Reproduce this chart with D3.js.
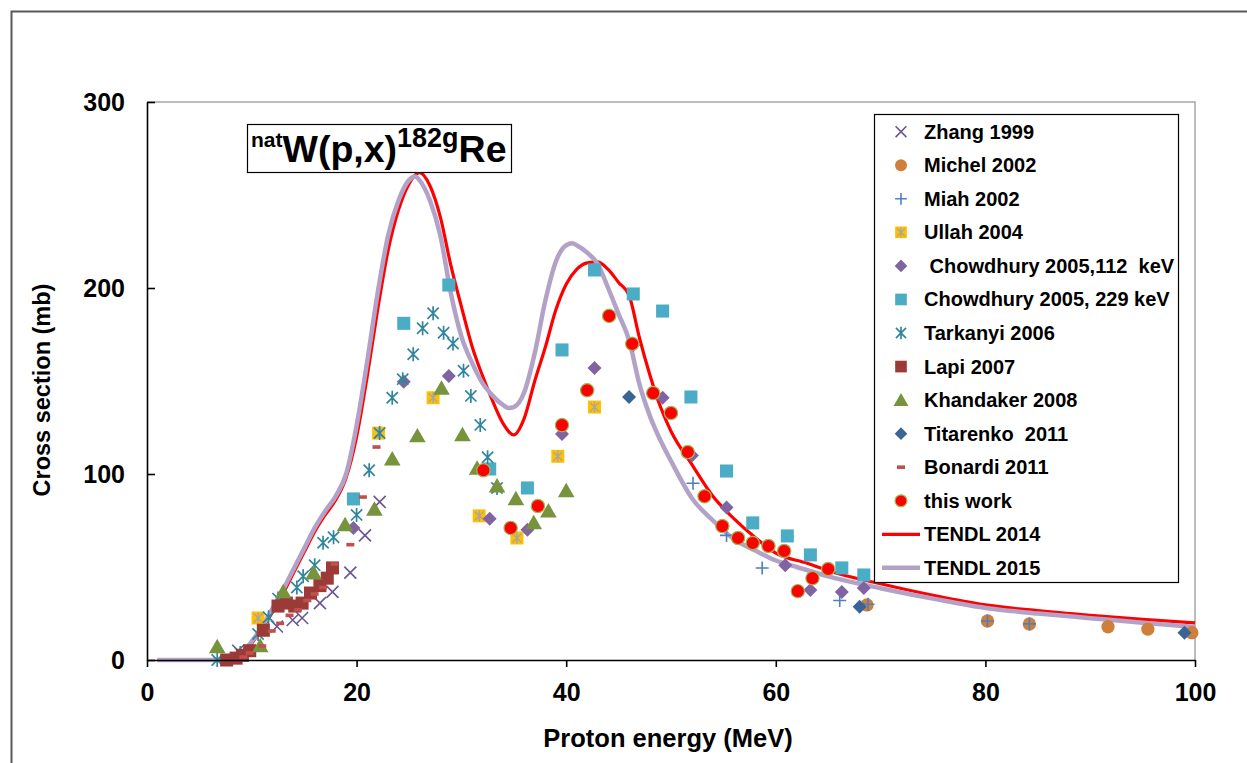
<!DOCTYPE html>
<html><head><meta charset="utf-8">
<script src="https://cdn.jsdelivr.net/npm/d3@7"></script>
<style>body{margin:0;background:#fff}svg{display:block}text{font-family:"Liberation Sans",Arial,sans-serif;font-weight:bold}</style>
</head><body>
<script>
// ---------- data: [Proton energy (MeV), cross section (mb)] ----------
const xTicks = [0, 20, 40, 60, 80, 100];
const yTicks = [0, 100, 200, 300];

const zhang1999 = [[8.7,5],[12.4,18],[13.9,21.5],[14.8,22.6],[16.5,30.6],[17.7,36.6],[19.4,47],[20.8,67],[22.2,85]];
const michel2002 = [[68.7,29.6],[80.2,21],[84.2,19.4],[91.7,17.9],[95.5,16.6],[99.7,14.7]];
const miah2002 = [[52.1,95],[55.3,67],[58.7,49.5],[66.1,32],[68.8,30],[80.2,21],[84.2,19.4]];
const ullah2004 = [[10.6,22.6],[22.1,122],[27.3,141],[31.7,77.5],[35.3,65.6],[39.2,109.5],[42.7,136]];
const chowdhury112 = [[19.7,71],[24.5,149.6],[28.8,152.7],[32.7,76],[36.3,70],[39.6,121.5],[42.7,157],[46.4,169.4],[49.2,141],[52.0,110],[55.3,82],[60.9,51],[63.3,37.6],[66.3,36.5],[68.4,38.7]];
const chowdhury229 = [[19.7,86.6],[24.5,181],[28.8,201.6],[32.7,102.7],[36.3,92.5],[39.6,166.7],[42.7,209.7],[46.4,196.8],[49.2,187.6],[51.9,141.4],[55.3,101.6],[57.8,73.7],[61.1,66.7],[63.3,56.5],[66.3,49.5],[68.4,45.7]];
const tarkanyi2006 = [[6.7,0],[8.9,3.8],[10.6,14],[11.6,23],[12.5,33],[14.3,39],[14.9,45],[16.0,51],[16.8,63],[17.8,66],[20.0,78],[21.2,102],[22.2,122],[23.4,141],[24.4,151],[25.4,164.4],[26.3,178.4],[27.3,186.4],[28.3,175.9],[29.2,170.2],[30.2,155.5],[30.9,142],[31.8,126.4],[32.5,109],[33.4,92.5]];
const lapi2007 = [[7.6,0],[8.5,1],[9.1,2.5],[9.8,5],[11.1,16],[12.5,29],[13.3,30.6],[14.1,29],[14.8,30.6],[15.6,36],[16.5,40],[17.2,44],[17.7,49.5]];
const khandaker2008 = [[6.7,7],[10.8,7.5],[13.0,36.6],[15.9,46.7],[18.9,72.6],[21.7,81],[23.4,108],[25.8,120.4],[28.1,146],[30.1,121],[31.5,103],[33.4,93.5],[35.2,86.6],[36.9,73.7],[38.3,80],[40.0,90.9]];
const titarenko2011 = [[46.0,141.4],[68.0,28.6],[99.0,14.7]];
const bonardi2011 = [[9.2,1.6],[9.8,3.8],[11.0,7.5],[11.9,15.6],[12.7,19.7],[13.6,24],[14.4,27],[15.3,32],[16.0,35.5],[16.8,39],[17.9,51.6],[19.4,62],[20.6,87.6],[21.9,114.5]];
const thisWork = [[32.1,102],[34.7,71],[37.3,82.8],[39.6,126.3],[42.0,145],[44.1,185],[46.3,170],[48.3,143.5],[50.0,132.8],[51.6,111.8],[53.2,88],[54.9,72],[56.4,65.6],[57.8,62.9],[59.3,61.3],[60.8,58.6],[62.1,37],[63.5,44],[65.0,48.9]];

const tendl2014 = [[1,0],[4,0],[7,0],[8.5,0],[9,2],[10,9],[11,17],[12,26],[13,36],[14,47],[15,58],[16,69],[17,78],[18,86],[19,98],[20,120],[21,152],[22,188],[23,220],[24,242],[25,256],[26,262],[27,255],[28,238],[29,212],[30,190],[31,169],[32,153],[33,139],[34,127],[35,121],[36,130],[37,150],[38,168],[39,188],[40,202],[41,210],[42,213.5],[43,214],[44,210],[45,203],[46,196],[47,173],[48,153],[49,136],[50,123],[52,105],[54,88],[56,76],[58,66],[60,57.5],[63,52],[65,48],[70,41],[75,34.8],[80,29.6],[85,26.5],[90,24],[95,21.8],[100,20]];
const tendl2015 = [[1,0],[4,0],[7,0],[8.5,0],[9,3],[10,10],[11,18],[12,28],[13,38],[14,49],[15,60],[16,71],[17,80],[18,88],[19,100],[20,126],[21,160],[22,197],[23,228],[24,247],[25,258],[25.6,260],[26,258],[27,247],[28,228],[29,197],[30,174],[31,160],[32,149],[33,142],[34,137],[34.5,135.5],[35,136],[36,144],[37,165],[38,193],[39,214],[40,223],[40.6,224],[41,223],[42,219],[43,213],[44,200],[45,186],[46,172],[47,148],[48,131],[49,118],[50,107],[52,87],[54,75],[56,65],[58,59],[60,53.5],[62,50],[65,45],[70,38.6],[75,33],[80,28],[85,25],[90,22.5],[95,20],[100,17.7]];

// ---------- drawing ----------
const W = 1247, H = 763;
const FONT = '"Liberation Sans",Arial,sans-serif';
const svg = d3.select("body").append("svg").attr("width", W).attr("height", H);
svg.append("rect").attr("width", W).attr("height", H).attr("fill", "#fff");
svg.append("rect").attr("x", 11.5).attr("y", 11.5).attr("width", 1300).attr("height", 800)
  .attr("fill", "none").attr("stroke", "#595959").attr("stroke-width", 2);

const x = d3.scaleLinear().domain([0, 100]).range([147, 1195]);
const y = d3.scaleLinear().domain([0, 300]).range([660, 102]);

// plot area border (top/right grey)
svg.append("path").attr("d", `M${x(0)},${y(300)}H${x(100)}V${y(0)}`)
  .attr("fill", "none").attr("stroke", "#a6a6a6").attr("stroke-width", 1.5);

// lines
const line = d3.line().x(d => x(d[0])).y(d => y(d[1])).curve(d3.curveMonotoneX);
svg.append("path").datum(tendl2014).attr("d", line).attr("fill", "none")
  .attr("stroke", "#ff0000").attr("stroke-width", 3.2);
svg.append("path").datum(tendl2015).attr("d", line).attr("fill", "none")
  .attr("stroke", "#b3a2c7").attr("stroke-width", 4.5);

// markers
function marker(g, type, cx, cy, st) {
  const s = st.size, h = s / 2;
  if (type === "x") {
    g.append("path").attr("d", `M${cx-h},${cy-h}L${cx+h},${cy+h}M${cx-h},${cy+h}L${cx+h},${cy-h}`)
      .attr("stroke", st.color).attr("stroke-width", 1.6).attr("fill", "none");
  } else if (type === "plus") {
    g.append("path").attr("d", `M${cx-h},${cy}H${cx+h}M${cx},${cy-h}V${cy+h}`)
      .attr("stroke", st.color).attr("stroke-width", 1.6).attr("fill", "none");
  } else if (type === "star") {
    const k = h * 0.8;
    g.append("path").attr("d", `M${cx-k},${cy-k}L${cx+k},${cy+k}M${cx-k},${cy+k}L${cx+k},${cy-k}M${cx},${cy-h}V${cy+h}`)
      .attr("stroke", st.color).attr("stroke-width", st.sw || 1.7).attr("fill", "none");
  } else if (type === "dash") {
    g.append("rect").attr("x", cx - 4).attr("y", cy - 1.8).attr("width", 8).attr("height", 3.6)
      .attr("fill", st.color);
  } else if (type === "ullah") {
    g.append("rect").attr("x", cx - h).attr("y", cy - h).attr("width", s).attr("height", s).attr("fill", st.color);
    marker(g, "star", cx, cy, {size: s * 0.85, color: "#a6a6a6", sw: 1.4});
  } else if (type === "diamond") {
    g.append("path").attr("d", `M${cx},${cy-h}L${cx+h},${cy}L${cx},${cy+h}L${cx-h},${cy}Z`).attr("fill", st.color);
  } else {
    const sym = {circle: d3.symbolCircle, square: d3.symbolSquare, triangle: d3.symbolTriangle}[type];
    const p = g.append("path").attr("d", d3.symbol().type(sym).size(st.area)())
      .attr("transform", `translate(${cx},${cy + (type === "triangle" ? 1.5 : 0)})`)
      .attr("fill", st.color);
    if (st.stroke) p.attr("stroke", st.stroke).attr("stroke-width", 1.2);
  }
}

const series = [
  {name: "Zhang 1999", data: zhang1999, type: "x", color: "#6b5592", size: 12},
  {name: "Michel 2002", data: michel2002, type: "circle", color: "#d07f3a", area: 140},
  {name: "Miah 2002", data: miah2002, type: "plus", color: "#4f7fbf", size: 13},
  {name: "Ullah 2004", data: ullah2004, type: "ullah", color: "#ffc000", size: 13},
  {name: " Chowdhury 2005,112  keV", data: chowdhury112, type: "diamond", color: "#8064a2", size: 14},
  {name: "Chowdhury 2005, 229 keV", data: chowdhury229, type: "square", color: "#4bacc6", area: 170},
  {name: "Tarkanyi 2006", data: tarkanyi2006, type: "star", color: "#31859c", size: 14},
  {name: "Lapi 2007", data: lapi2007, type: "square", color: "#9b3a37", area: 170},
  {name: "Khandaker 2008", data: khandaker2008, type: "triangle", color: "#77933c", area: 120},
  {name: "Titarenko  2011", data: titarenko2011, type: "diamond", color: "#3b6496", size: 14},
  {name: "Bonardi 2011", data: bonardi2011, type: "dash", color: "#c0504d"},
  {name: "this work", data: thisWork, type: "circle", color: "#ff0000", stroke: "#9bbb59", area: 140}
];

const gm = svg.append("g");
series.forEach(s => s.data.forEach(d => marker(gm, s.type, x(d[0]), y(d[1]), s)));

// axes
const gx = svg.append("g").attr("transform", `translate(0,${y(0)})`)
  .call(d3.axisBottom(x).tickValues(xTicks).tickSize(7).tickSizeOuter(0).tickPadding(16));
const gy = svg.append("g").attr("transform", `translate(${x(0)},0)`)
  .call(d3.axisLeft(y).tickValues(yTicks).tickSize(-8).tickSizeOuter(0).tickPadding(22));
[gx, gy].forEach(g => {
  g.select(".domain").attr("stroke", "#000").attr("stroke-width", 1.6);
  g.selectAll(".tick line").attr("stroke", "#000").attr("stroke-width", 1.6);
  g.selectAll(".tick text").attr("fill", "#000").style("font-size", "25px")
    .style("font-family", FONT).style("font-weight", "bold");
});

// axis titles
svg.append("text").attr("x", 668).attr("y", 747).attr("text-anchor", "middle")
  .style("font-size", "25.5px").text("Proton energy (MeV)");
svg.append("text").attr("transform", "translate(50,390) rotate(-90)").attr("text-anchor", "middle")
  .style("font-size", "23.5px").text("Cross section (mb)");

// title box
svg.append("rect").attr("x", 247.5).attr("y", 124.5).attr("width", 264).attr("height", 48)
  .attr("fill", "#fff").attr("stroke", "#000").attr("stroke-width", 1.2);
const t = svg.append("text").attr("x", 251).attr("y", 162);
t.append("tspan").attr("y", 147).style("font-size", "21px").text("nat");
t.append("tspan").attr("y", 162).style("font-size", "37.5px").text("W(p,x)");
t.append("tspan").attr("y", 147).style("font-size", "27px").text("182g");
t.append("tspan").attr("y", 162).style("font-size", "37.5px").text("Re");

// legend
svg.append("rect").attr("x", 874.5).attr("y", 114.5).attr("width", 304).attr("height", 468)
  .attr("fill", "#fff").attr("stroke", "#000").attr("stroke-width", 1.2);
const lg = svg.append("g");
const rowY = i => 131.7 + i * 33.55;
series.forEach((s, i) => {
  const st = Object.assign({}, s);
  if (st.size) st.size = st.size * 0.9;
  if (st.area) st.area = st.area * 0.8;
  marker(lg, s.type, 901, rowY(i), st);
  lg.append("text").attr("x", 924).attr("y", rowY(i) + 7).style("font-size", "20px")
    .attr("xml:space", "preserve").style("white-space", "pre").text(s.name);
});
[["TENDL 2014", "#ff0000", 3.2], ["TENDL 2015", "#b3a2c7", 4.5]].forEach((l, j) => {
  const yy = rowY(12 + j);
  lg.append("line").attr("x1", 882).attr("x2", 920).attr("y1", yy).attr("y2", yy)
    .attr("stroke", l[1]).attr("stroke-width", l[2]);
  lg.append("text").attr("x", 924).attr("y", yy + 7).style("font-size", "20px").text(l[0]);
});
</script>
</body></html>
